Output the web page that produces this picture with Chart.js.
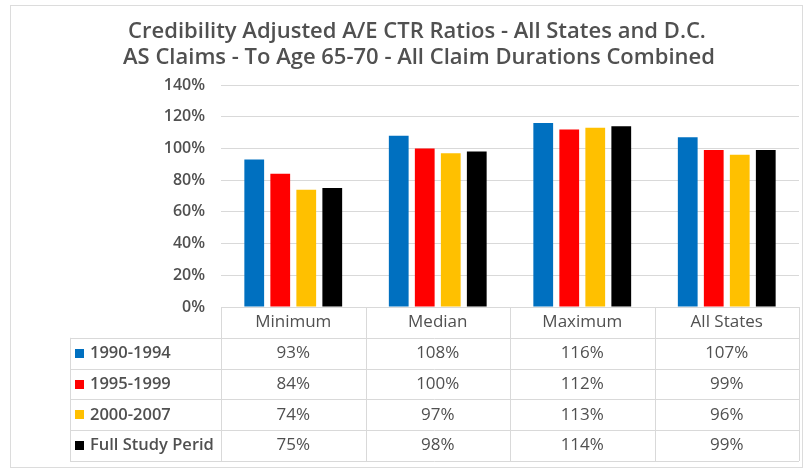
<!DOCTYPE html>
<html>
<head>
<meta charset="utf-8">
<script src="https://cdn.jsdelivr.net/npm/chart.js@4.4.1/dist/chart.umd.min.js"></script>
<style>
  html, body { margin: 0; padding: 0; background: #ffffff; }
  #wrap { width: 811px; height: 470px; }
</style>
</head>
<body>
<div id="wrap"><canvas id="c" width="811" height="470"></canvas></div>
<script>
const titleLines = ['Credibility Adjusted A/E CTR Ratios - All States and D.C.', 'AS Claims - To Age 65-70 - All Claim Durations Combined'];
const categories = ['Minimum', 'Median', 'Maximum', 'All States'];
const seriesNames = ['1990-1994', '1995-1999', '2000-2007', 'Full Study Perid'];
const s1990_1994 = [93, 108, 116, 107];
const s1995_1999 = [84, 100, 112, 99];
const s2000_2007 = [74, 97, 113, 96];
const sFullStudy = [75, 98, 114, 99];
const seriesColors = ['#0070C0', '#FF0000', '#FFC000', '#000000'];
const yMin = 0, yMax = 140, yStep = 20;

const seriesValues = [s1990_1994, s1995_1999, s2000_2007, sFullStudy];
const FONT = "'Open Sans', 'Liberation Sans', sans-serif";
const TEXT = '#505050';
const LINE = '#d9d9d9';

const framePlugin = {
  id: 'frame',
  beforeDraw(chart) {
    const ctx = chart.ctx;
    ctx.save();
    ctx.fillStyle = '#ffffff';
    ctx.fillRect(0, 0, chart.width, chart.height);
    ctx.strokeStyle = '#dcdcdc';
    ctx.lineWidth = 1;
    ctx.strokeRect(10.5, 5.5, 792, 462);
    ctx.restore();
  }
};

const titlePlugin = {
  id: 'centeredTitle',
  afterDraw(chart) {
    const ctx = chart.ctx;
    ctx.save();
    ctx.fillStyle = TEXT;
    ctx.font = '600 22px ' + FONT;
    ctx.textAlign = 'center';
    ctx.textBaseline = 'middle';
    ctx.fillText(titleLines[0], 417, 32);
    ctx.fillText(titleLines[1], 419, 58);
    ctx.restore();
  }
};

const tablePlugin = {
  id: 'dataTable',
  afterDraw(chart) {
    const ctx = chart.ctx;
    const xs = chart.scales.x;
    const area = chart.chartArea;
    const n = categories.length;
    const colW = (area.right - area.left) / n;
    const top = area.bottom;
    const rowH = 30.8;
    const labelLeft = 70;
    const bottom = top + rowH * (seriesNames.length + 1);
    ctx.save();
    ctx.strokeStyle = LINE;
    ctx.lineWidth = 1;
    for (let i = 0; i <= n; i++) {
      const x = Math.round(area.left + i * colW) + 0.5;
      ctx.beginPath(); ctx.moveTo(x, top); ctx.lineTo(x, bottom); ctx.stroke();
    }
    ctx.beginPath(); ctx.moveTo(labelLeft + 0.5, top + rowH); ctx.lineTo(labelLeft + 0.5, bottom); ctx.stroke();
    ctx.beginPath(); ctx.moveTo(area.left, Math.round(top) + 0.5); ctx.lineTo(area.right, Math.round(top) + 0.5); ctx.stroke();
    for (let r = 1; r <= seriesNames.length + 1; r++) {
      const y = Math.round(top + r * rowH) + 0.5;
      ctx.beginPath(); ctx.moveTo(labelLeft, y); ctx.lineTo(area.right, y); ctx.stroke();
    }
    ctx.fillStyle = TEXT;
    ctx.font = '17px ' + FONT;
    ctx.textAlign = 'center';
    ctx.textBaseline = 'middle';
    categories.forEach((c, i) => {
      ctx.fillText(c, xs.getPixelForValue(i), top + rowH / 2);
    });
    seriesNames.forEach((name, r) => {
      const cy = top + rowH * (r + 1) + rowH / 2;
      ctx.fillStyle = seriesColors[r];
      ctx.fillRect(75, Math.round(cy - 4.5), 9, 9);
      ctx.fillStyle = TEXT;
      ctx.textAlign = 'left';
      ctx.font = '600 16.5px ' + FONT;
      ctx.fillText(name, 90, cy);
      ctx.textAlign = 'center';
      ctx.font = '17px ' + FONT;
      seriesValues[r].forEach((v, i) => {
        ctx.fillText(v + '%', xs.getPixelForValue(i), cy);
      });
    });
    ctx.restore();
  }
};

new Chart(document.getElementById('c'), {
  type: 'bar',
  data: {
    labels: categories,
    datasets: seriesNames.map((name, i) => ({
      label: name,
      data: seriesValues[i],
      backgroundColor: seriesColors[i],
      borderWidth: 0,
      categoryPercentage: 0.72,
      barPercentage: 0.76
    }))
  },
  options: {
    responsive: false,
    devicePixelRatio: 1,
    animation: false,
    layout: { padding: { left: 10, right: 12, top: 85, bottom: 163 } },
    plugins: {
      legend: { display: false },
      tooltip: { enabled: false },
      title: { display: false }
    },
    scales: {
      x: { display: false },
      y: {
        min: yMin, max: yMax,
        ticks: {
          stepSize: yStep,
          callback: v => v + '%',
          color: TEXT,
          font: { family: FONT, size: 16, weight: '600' },
          padding: 16
        },
        grid: { color: LINE, drawTicks: false },
        border: { display: false },
        afterFit(scale) { scale.width = 211; }
      }
    }
  },
  plugins: [framePlugin, titlePlugin, tablePlugin]
});
</script>
</body>
</html>
